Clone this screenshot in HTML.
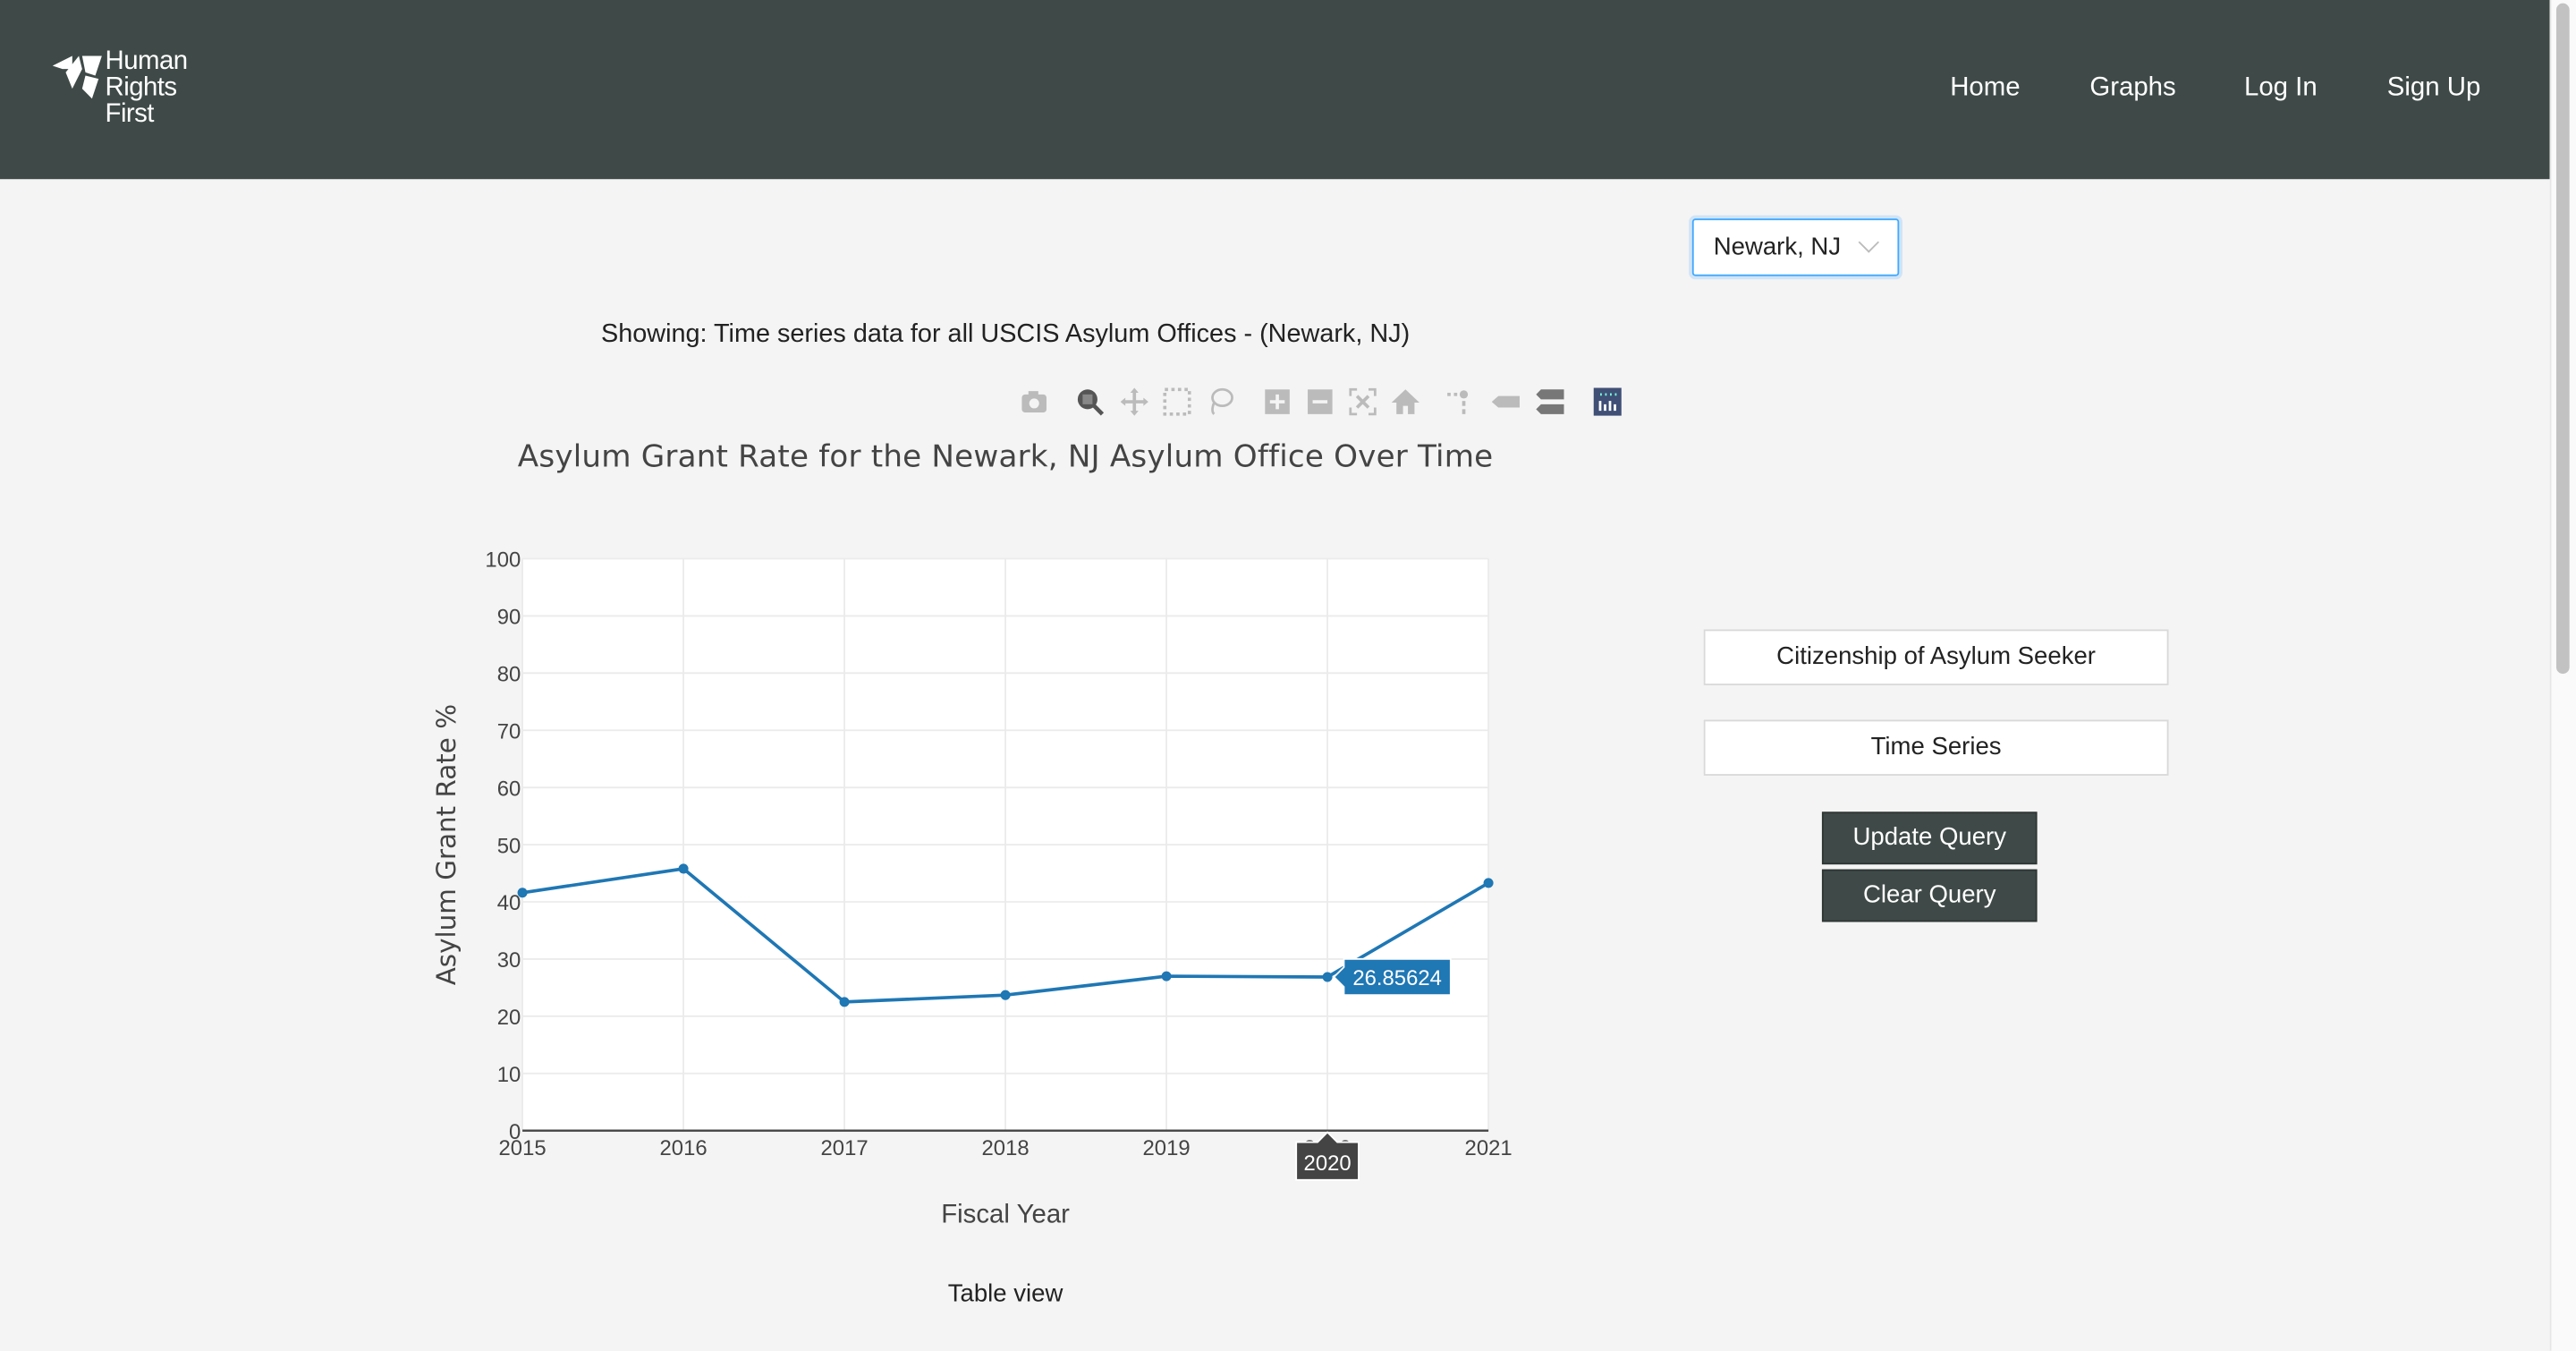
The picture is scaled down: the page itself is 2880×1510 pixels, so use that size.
<!DOCTYPE html>
<html><head><meta charset="utf-8">
<style>
html,body{margin:0;padding:0;width:2880px;height:1510px;overflow:hidden;background:#f4f4f4;font-family:"Liberation Sans",sans-serif;}
#wrap{position:absolute;left:0;top:0;width:1568px;height:822px;transform:scale(1.83674);transform-origin:0 0;}
.abs{position:absolute;}
.nav{position:absolute;top:45px;color:#fff;font-size:16px;}
.btn{position:absolute;background:#fff;border:1px solid #d9d9d9;font-size:15px;color:#222;text-align:center;box-sizing:border-box;}
.dbtn{position:absolute;background:#3f4a48;color:#fff;font-size:15px;text-align:center;box-sizing:border-box;border:1px solid #2e3634;}
.ic{position:absolute;top:236px;width:17px;height:17px;}
</style></head><body>
<div id="wrap">
<div class="abs" style="left:0;top:0;width:1552px;height:109px;background:#3f4a48;"></div>
<div class="abs" style="left:32px;top:30px;width:100px;height:50px;">
  <svg width="30" height="36" style="position:absolute;left:0;top:2px" viewBox="0 0 30 36"><polygon points="0,8 12,2 12,10 6,10" fill="#fff"/><polygon points="8,12 16,2 18,10 12,22" fill="#fff"/><polygon points="18,2 30,2 26,14 20,12" fill="#fff"/><polygon points="20,14 28,16 24,28 18,22" fill="#fff"/></svg>
  <div style="position:absolute;left:32px;top:0;color:#fff;font-size:16px;line-height:16px;letter-spacing:-0.3px;">Human<br>Rights<br>First</div>
</div>
<div class="nav" style="left:1187px;">Home</div>
<div class="nav" style="left:1272px;">Graphs</div>
<div class="nav" style="left:1366px;">Log In</div>
<div class="nav" style="left:1453px;">Sign Up</div>
<div class="abs" style="left:1552px;top:0;width:16px;height:822px;background:#fafafa;border-left:1px solid #e6e6e6;"></div>
<div class="abs" style="left:1556px;top:2px;width:8px;height:408px;background:#c2c2c2;border-radius:4px;"></div>

<div class="abs" style="left:1030px;top:133px;width:126px;height:35px;background:#fff;border:1px solid #40a9ff;box-shadow:0 0 0 2px #d0e4f7;border-radius:2px;box-sizing:border-box;">
  <span style="position:absolute;left:12px;top:8px;font-size:15px;color:#222;">Newark, NJ</span>
  <span style="position:absolute;left:102px;top:9px;width:8px;height:8px;border-right:1px solid #bbb;border-bottom:1px solid #bbb;transform:rotate(45deg);"></span>
</div>
<div class="abs" style="left:262px;width:700px;top:195px;text-align:center;font-size:15.7px;color:#222;">Showing: Time series data for all USCIS Asylum Offices - (Newark, NJ)</div>

<div>
<svg class="ic" style="left:621px" viewBox="0 0 17 17"><rect x="1" y="4" width="15" height="11" rx="2" fill="#bbb"/><rect x="5" y="2" width="6" height="3" fill="#bbb"/><circle cx="8.5" cy="9.5" r="3" fill="#f4f4f4"/></svg>
<svg class="ic" style="left:655px" viewBox="0 0 17 17"><circle cx="7" cy="7" r="6" fill="#555"/><rect x="4" y="4" width="6" height="6" fill="#888"/><line x1="11" y1="11" x2="16" y2="16" stroke="#555" stroke-width="2.5"/></svg>
<svg class="ic" style="left:682px" viewBox="0 0 17 17"><path d="M8.5 0L11 3H9.5V7.5H14V6L17 8.5L14 11V9.5H9.5V14H11L8.5 17L6 14H7.5V9.5H3V11L0 8.5L3 6V7.5H7.5V3H6Z" fill="#bbb"/></svg>
<svg class="ic" style="left:708px" viewBox="0 0 17 17"><rect x="1" y="1" width="15" height="15" fill="none" stroke="#bbb" stroke-width="2" stroke-dasharray="2 2"/></svg>
<svg class="ic" style="left:734px" viewBox="0 0 17 17"><ellipse cx="10" cy="6" rx="6" ry="5" fill="none" stroke="#bbb" stroke-width="1.5"/><path d="M5 9 Q3 14 5 16" fill="none" stroke="#bbb" stroke-width="1.5"/></svg>
<svg class="ic" style="left:769px" viewBox="0 0 17 17"><rect x="1" y="1" width="15" height="15" fill="#bbb"/><path d="M8.5 4V13M4 8.5H13" stroke="#f4f4f4" stroke-width="2"/></svg>
<svg class="ic" style="left:795px" viewBox="0 0 17 17"><rect x="1" y="1" width="15" height="15" fill="#bbb"/><path d="M4 8.5H13" stroke="#f4f4f4" stroke-width="2"/></svg>
<svg class="ic" style="left:821px" viewBox="0 0 17 17"><path d="M1 5V1H5M12 1H16V5M16 12V16H12M5 16H1V12" fill="none" stroke="#bbb" stroke-width="1.5"/><path d="M5 5L12 12M12 5L5 12" stroke="#bbb" stroke-width="2"/></svg>
<svg class="ic" style="left:847px" viewBox="0 0 17 17"><path d="M8.5 1L17 9H14V16H10V11H7V16H3V9H0Z" fill="#bbb"/></svg>
<svg class="ic" style="left:880px" viewBox="0 0 17 17"><rect x="1" y="3" width="2" height="2" fill="#bbb"/><rect x="5" y="3" width="2" height="2" fill="#bbb"/><circle cx="11" cy="4" r="2.5" fill="#bbb"/><rect x="10" y="8" width="2" height="3" fill="#bbb"/><rect x="10" y="13" width="2" height="3" fill="#bbb"/></svg>
<svg class="ic" style="left:908px" viewBox="0 0 17 17"><path d="M0 8.5L4 5H17V12H4Z" fill="#bbb"/></svg>
<svg class="ic" style="left:935px" viewBox="0 0 17 17"><path d="M0 4L3 1H17V7H3Z M0 13L3 10H17V16H3Z" fill="#777"/></svg>
<svg class="ic" style="left:970px" viewBox="0 0 17 17"><rect width="17" height="17" fill="#3f4f75"/><path d="M4 8V14M7 10V14M10 8V14M13 10V14" stroke="#fff" stroke-width="1.5"/><path d="M4 4H5M7 4H8M10 4H11M13 4H14" stroke="#7fd" stroke-width="1.5"/></svg>
</div>

<div class="abs" style="left:262px;width:700px;top:268px;text-align:center;font-size:18.6px;color:#444;font-family:'DejaVu Sans','Liberation Sans',sans-serif;letter-spacing:0.1px;">Asylum Grant Rate for the Newark, NJ Asylum Office Over Time</div>

<svg id="chart" class="abs" style="left:0;top:0" width="1568" height="822"></svg>

<div class="abs" style="left:512px;width:200px;top:731px;text-align:center;font-size:16px;color:#444;">Fiscal Year</div>
<div class="abs" style="left:512px;width:200px;top:779px;text-align:center;font-size:15px;color:#222;">Table view</div>

<div class="btn" style="left:1037px;top:383px;width:283px;height:34px;line-height:32px;">Citizenship of Asylum Seeker</div>
<div class="btn" style="left:1037px;top:438px;width:283px;height:34px;line-height:32px;">Time Series</div>
<div class="dbtn" style="left:1109px;top:494px;width:131px;height:32px;line-height:30px;">Update Query</div>
<div class="dbtn" style="left:1109px;top:529px;width:131px;height:32px;line-height:30px;">Clear Query</div>
</div>

<script>
const years = [2015, 2016, 2017, 2018, 2019, 2020, 2021];
const grantRates = [41.6, 45.8, 22.5, 23.7, 27.0, 26.85624, 43.3];
const yTicks = [0, 10, 20, 30, 40, 50, 60, 70, 80, 90, 100];
const hoverYear = 2020;
const hoverLabel = "26.85624";

const NS = "http://www.w3.org/2000/svg";
const svg = document.getElementById('chart');
const L = 318, R = 906, T = 340, B = 688;
const xMin = 2015, xMax = 2021, yMin = 0, yMax = 100;
function xs(v){ return L + (v - xMin) / (xMax - xMin) * (R - L); }
function ys(v){ return B - (v - yMin) / (yMax - yMin) * (B - T); }
function mk(tag, attrs){ const e = document.createElementNS(NS, tag); for (const k in attrs) e.setAttribute(k, attrs[k]); svg.appendChild(e); return e; }

const bg = mk('rect', {x:L, y:T, width:R-L, height:B-T, fill:'#fff'});



yTicks.forEach(t => {
  const g = mk('line', {x1:L, x2:R, y1:ys(t), y2:ys(t), stroke:'#ebebeb', 'stroke-width':1});
  
  
  const lb = mk('text', {x:L-1, y:ys(t)+5, 'text-anchor':'end', 'font-size':13, fill:'#444', 'font-family':'Liberation Sans, sans-serif'});
  lb.textContent = t;
  
  
});
years.forEach(y => {
  const g = mk('line', {x1:xs(y), x2:xs(y), y1:T, y2:B, stroke:'#ebebeb', 'stroke-width':1});
  
  
  const lb = mk('text', {x:xs(y), y:B+15, 'text-anchor':'middle', 'font-size':13, fill:'#444', 'font-family':'Liberation Sans, sans-serif'});
  lb.textContent = y;
  
  
});
const ax = mk('line', {x1:L, x2:R, y1:B, y2:B, stroke:'#444', 'stroke-width':1.3});



const yt = mk('text', {x:0, y:0, transform:'translate(277,514) rotate(-90)', 'text-anchor':'middle', 'font-size':16, fill:'#444', 'font-family':'DejaVu Sans, Liberation Sans, sans-serif'});
yt.textContent = 'Asylum Grant Rate %';



const pts = years.map((y,i) => xs(y)+','+ys(grantRates[i])).join(' ');
const line = mk('polyline', {points:pts, fill:'none', stroke:'#1f77b4', 'stroke-width':2});


years.forEach((y,i) => {
  const c = mk('circle', {cx:xs(y), cy:ys(grantRates[i]), r:3, fill:'#1f77b4'});
  
  
});

const hi = years.indexOf(hoverYear);
const hx = xs(hoverYear), hy = ys(grantRates[hi]);
const tip = mk('path', {d:`M${hx+4} ${hy} L${hx+10} ${hy-6} V${hy-11} H${hx+75} V${hy+11} H${hx+10} V${hy+6} Z`, fill:'#1f77b4', stroke:'#fff', 'stroke-width':1});


const tt = mk('text', {x:hx+42.5, y:hy+5, 'text-anchor':'middle', 'font-size':13, fill:'#fff', 'font-family':'Liberation Sans, sans-serif'});
tt.textContent = hoverLabel;


const xtip = mk('path', {d:`M${hx} ${B+1} L${hx+6} ${B+7} H${hx+19} V${B+30} H${hx-19} V${B+7} H${hx-6} Z`, fill:'#444', stroke:'#fff', 'stroke-width':1});


const xtt = mk('text', {x:hx, y:B+24, 'text-anchor':'middle', 'font-size':13, fill:'#fff', 'font-family':'Liberation Sans, sans-serif'});
xtt.textContent = hoverYear;


</script>
</body></html>
